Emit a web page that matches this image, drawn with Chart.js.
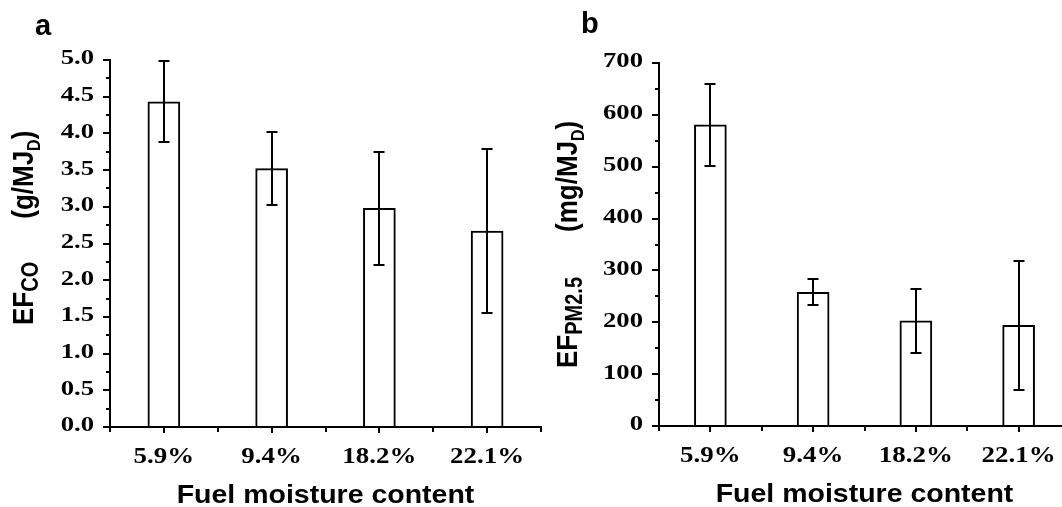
<!DOCTYPE html>
<html><head><meta charset="utf-8">
<script src="https://cdn.jsdelivr.net/npm/chart.js@4"></script>
<style>
html,body{margin:0;padding:0;background:#fff;overflow:hidden;width:1062px;height:507px;position:relative;}
canvas{position:absolute;top:0;}
#ca{left:0;} #cb{left:531px;}
</style></head><body>
<canvas id="ca" width="560" height="507"></canvas>
<canvas id="cb" width="545" height="507"></canvas>
<script>
// ---- data ----
const categories = ['5.9%', '9.4%', '18.2%', '22.1%'];
const coMeans = [4.43, 3.52, 2.98, 2.67];
const coErrors = [0.55, 0.50, 0.77, 1.12];
const pmMeans = [581, 258, 203, 194];
const pmErrors = [79, 25, 62, 125];
const coTickLabels = ['0.0','0.5','1.0','1.5','2.0','2.5','3.0','3.5','4.0','4.5','5.0'];
const pmTickLabels = ['0','100','200','300','400','500','600','700'];
const xAxisTitle = 'Fuel moisture content';

const SERIF = "'Liberation Serif', 'Times New Roman', serif";
const SANS = "'Liberation Sans', Arial, sans-serif";

function drawStretched(ctx, text, x, y, font, sx, align, baseline) {
  ctx.save();
  ctx.translate(x, y);
  ctx.scale(sx, 1);
  ctx.font = font;
  ctx.fillStyle = '#000';
  ctx.textAlign = align;
  ctx.textBaseline = baseline;
  ctx.fillText(text, 0, 0);
  ctx.restore();
}

const errorBarPlugin = {
  id: 'errorBars',
  afterDatasetsDraw(chart) {
    const ys = chart.scales.y, ctx = chart.ctx;
    ctx.save();
    ctx.strokeStyle = '#000';
    ctx.lineWidth = 2;
    chart.data.datasets.forEach((ds, di) => {
      const meta = chart.getDatasetMeta(di);
      meta.data.forEach((bar, i) => {
        const v = ds.data[i], e = ds.errors[i];
        const x = Math.round(bar.x);
        const yt = Math.round(ys.getPixelForValue(v + e));
        const yb = Math.round(ys.getPixelForValue(v - e));
        ctx.beginPath();
        ctx.moveTo(x, yt); ctx.lineTo(x, yb);
        ctx.moveTo(x - 5.5, yt); ctx.lineTo(x + 5.5, yt);
        ctx.moveTo(x - 5.5, yb); ctx.lineTo(x + 5.5, yb);
        ctx.stroke();
      });
    });
    ctx.restore();
  }
};

const decorPlugin = {
  id: 'decor',
  afterDraw(chart, args, o) {
    const ctx = chart.ctx;
    const xs = chart.scales.x, ys = chart.scales.y;
    const area = chart.chartArea;
    ctx.save();
    ctx.strokeStyle = '#000';
    ctx.lineWidth = 2;
    ctx.beginPath();
    // minor y ticks
    for (let v = ys.min + o.yStep / 2; v < ys.max; v += o.yStep) {
      const py = Math.round(ys.getPixelForValue(v));
      ctx.moveTo(area.left, py); ctx.lineTo(area.left - 4, py);
    }
    // x boundary ticks
    for (let i = 0; i <= categories.length; i++) {
      const px = Math.round(xs.getPixelForValue(i - 0.5));
      ctx.moveTo(px, area.bottom); ctx.lineTo(px, area.bottom + 5);
    }
    ctx.stroke();
    // y tick labels
    ys.ticks.forEach((t, i) => {
      drawStretched(ctx, o.yLabels[i], area.left - 16, ys.getPixelForTick(i) - 1,
        `bold 21px ${SERIF}`, 1.27, 'right', 'middle');
    });
    // x tick labels
    categories.forEach((c, i) => {
      drawStretched(ctx, c, xs.getPixelForValue(i), area.bottom + 36,
        `bold 23px ${SERIF}`, 1.17, 'center', 'alphabetic');
    });
    // x title
    drawStretched(ctx, xAxisTitle, (area.left + area.right) / 2, o.xTitleY,
      `bold 25px ${SANS}`, 1.14, 'center', 'alphabetic');
    // y title (rotated, with subscripts; glyph height stretched like the horizontal text)
    const t = o.yTitle;
    ctx.save();
    ctx.translate(t.x, t.start);
    ctx.rotate(-Math.PI / 2);
    ctx.scale(1, 1.15);
    ctx.fillStyle = '#000';
    ctx.textAlign = 'left';
    ctx.textBaseline = 'alphabetic';
    const mainF = `bold 26px ${SANS}`, subF = `bold 20px ${SANS}`, sub2F = `bold 16px ${SANS}`;
    let cx = 0;
    ctx.font = mainF; ctx.fillText(t.main, cx, 0); cx += ctx.measureText(t.main).width;
    ctx.font = subF; ctx.fillText(t.sub, cx, 4); cx += ctx.measureText(t.sub).width;
    cx += t.gap;
    ctx.font = mainF; ctx.fillText(t.unit, cx, 0); cx += ctx.measureText(t.unit).width;
    ctx.font = sub2F; ctx.fillText(t.unitSub, cx, 6); cx += ctx.measureText(t.unitSub).width;
    ctx.font = mainF; ctx.fillText(t.close, cx, 0);
    ctx.restore();
    // panel letter
    ctx.font = `bold 29px ${SANS}`;
    ctx.fillStyle = '#000';
    ctx.textAlign = 'left';
    ctx.textBaseline = 'alphabetic';
    ctx.fillText(o.letter, o.letterX, o.letterY);
    ctx.restore();
  }
};

function makeChart(id, cfg) {
  return new Chart(document.getElementById(id), {
    type: 'bar',
    data: {
      labels: categories,
      datasets: [{
        data: cfg.means,
        errors: cfg.errors,
        backgroundColor: '#ffffff',
        borderColor: '#000000',
        borderWidth: 2,
        borderSkipped: 'start',
        barThickness: 32
      }]
    },
    options: {
      responsive: false,
      animation: false,
      devicePixelRatio: 1,
      events: [],
      layout: { padding: { left: 0, right: cfg.padRight, top: cfg.top, bottom: 0 } },
      plugins: {
        legend: { display: false },
        tooltip: { enabled: false },
        decor: cfg.decor
      },
      scales: {
        x: {
          type: 'category',
          offset: true,
          afterFit(s) { s.height = cfg.xHeight; },
          grid: { display: true, drawOnChartArea: false, drawTicks: true, tickLength: 6, color: '#000', lineWidth: 2, offset: false },
          border: { display: true, color: '#000', width: 2, z: 1 },
          ticks: { display: false }
        },
        y: {
          type: 'linear',
          min: cfg.yMin,
          max: cfg.yMax,
          afterFit(s) { s.width = cfg.yWidth; },
          grid: { display: true, drawOnChartArea: false, drawTicks: true, tickLength: 7, color: '#000', lineWidth: 2 },
          border: { display: true, color: '#000', width: 2 },
          ticks: {
            display: false,
            stepSize: cfg.yStep,
            callback: (v, i) => cfg.decor.yLabels[i]
          }
        }
      }
    },
    plugins: [errorBarPlugin, decorPlugin]
  });
}

function init() {
  makeChart('ca', {
    means: coMeans, errors: coErrors,
    yMin: 0, yMax: 5, yStep: 0.5,
    padRight: 560 - 541, top: 60, xHeight: 80, yWidth: 110,
    decor: {
      yLabels: coTickLabels, yStep: 0.5, xTitleY: 503,
      letter: 'a', letterX: 35, letterY: 35,
      yTitle: { x: 33, start: 325, main: 'EF', sub: 'CO', gap: 43, unit: '(g/MJ', unitSub: 'D', close: ')' }
    }
  });

  makeChart('cb', {
    means: pmMeans, errors: pmErrors,
    yMin: 0, yMax: 700, yStep: 100,
    padRight: 545 - 539, top: 63, xHeight: 81, yWidth: 128,
    decor: {
      yLabels: pmTickLabels, yStep: 100, xTitleY: 502,
      letter: 'b', letterX: 50, letterY: 33,
      yTitle: { x: 46, start: 368, main: 'EF', sub: 'PM2.5', gap: 45, unit: '(mg/MJ', unitSub: 'D', close: ')' }
    }
  });
}

if (document.fonts && document.fonts.load) {
  Promise.all([
    document.fonts.load(`bold 21px ${SERIF}`),
    document.fonts.load(`bold 25px ${SANS}`)
  ]).then(init, init);
} else {
  init();
}
</script>
</body></html>
